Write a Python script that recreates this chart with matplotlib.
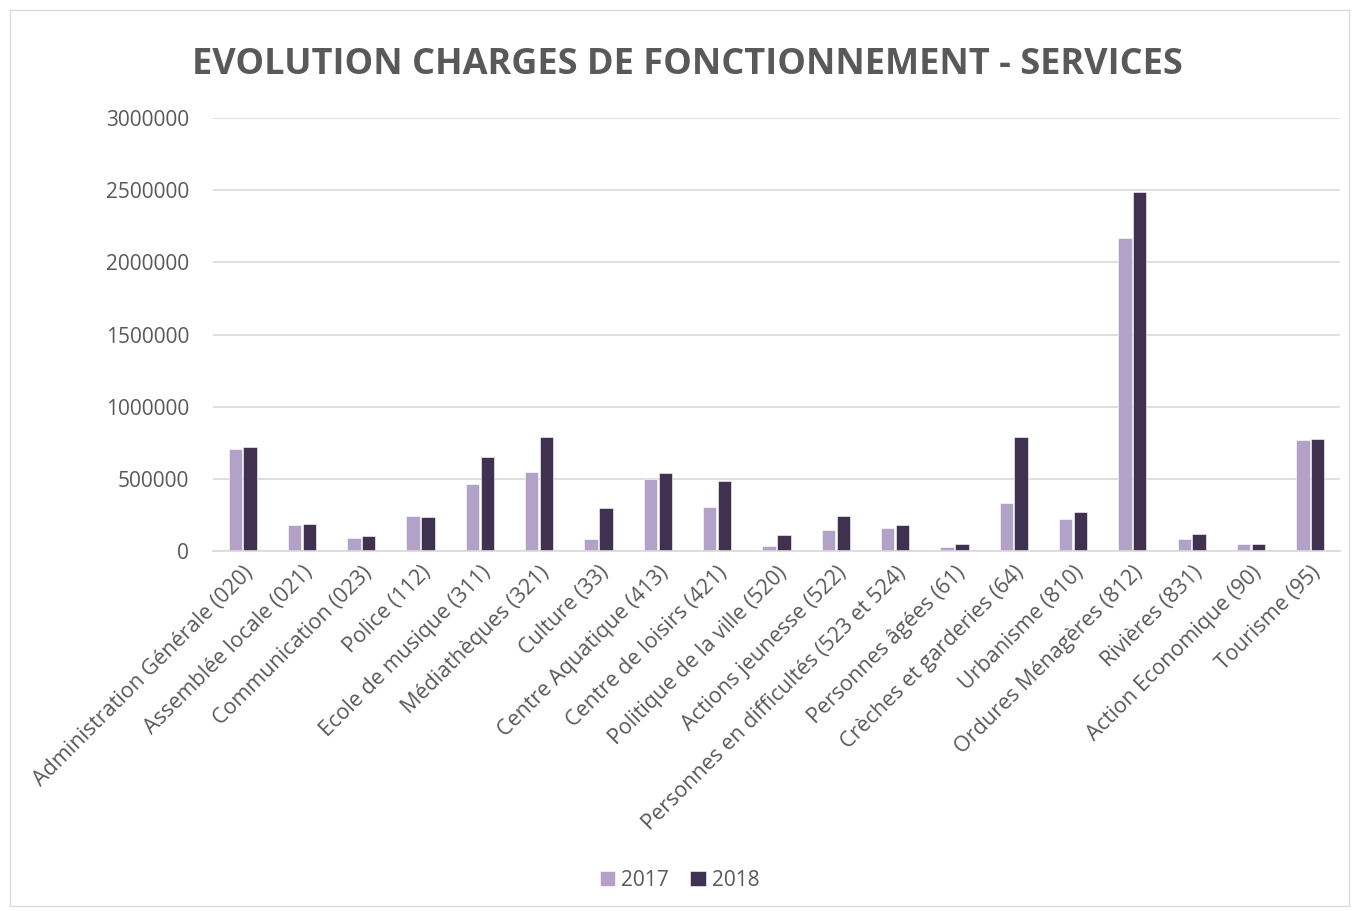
import numpy as np
import matplotlib.pyplot as plt
from matplotlib.patches import Rectangle

categories = ["Administration Générale (020)", "Assemblée locale (021)", "Communication (023)",
              "Police (112)", "Ecole de musique (311)", "Médiathèques (321)", "Culture (33)",
              "Centre Aquatique (413)", "Centre de loisirs (421)", "Politique de la ville (520)",
              "Actions jeunesse (522)", "Personnes en difficultés (523 et 524)", "Personnes âgées (61)",
              "Crèches et garderies (64)", "Urbanisme (810)", "Ordures Ménagères (812)",
              "Rivières (831)", "Action Economique (90)", "Tourisme (95)"]
val_2017 = [707000, 180000, 88000, 242000, 468000, 551000, 85000, 502000, 309000, 37000,
            145000, 159000, 30000, 334000, 226000, 2167000, 85000, 48000, 770000]
val_2018 = [721000, 191000, 108000, 240000, 652000, 790000, 297000, 544000, 486000, 113000,
            244000, 182000, 51000, 790000, 274000, 2486000, 120000, 48000, 779000]

plt.rcParams['font.family'] = ['Open Sans', 'DejaVu Sans']
txt = '#595959'

fig = plt.figure(figsize=(13.59, 9.11), dpi=100)
ax = fig.add_axes([0.1567, 0.395, 0.8293, 0.4755])

x = np.arange(len(categories))
w = 0.225
ax.bar(x - 0.125, val_2017, w, color='#B3A2C7', label='2017', edgecolor='white', linewidth=0.4)
ax.bar(x + 0.125, val_2018, w, color='#403151', label='2018', edgecolor='white', linewidth=0.4)

ax.set_ylim(0, 3000000)
ax.set_xlim(-0.5, len(categories) - 0.5)
ax.set_yticks(np.arange(0, 3000001, 500000))
ax.set_yticklabels([str(v) for v in range(0, 3000001, 500000)], fontsize=15, color=txt)
ax.yaxis.grid(True, color='#d9d9d9', linewidth=1.2)
ax.set_axisbelow(True)
for s in ['top', 'right', 'left']:
    ax.spines[s].set_visible(False)
ax.spines['bottom'].set_color('#d9d9d9')
ax.spines['bottom'].set_linewidth(1.2)
ax.tick_params(axis='y', length=0, pad=17)
ax.set_xticks(x)
ax.set_xticklabels(categories, rotation=45, ha='right', rotation_mode='anchor',
                   fontsize=15.5, color=txt)
ax.tick_params(axis='x', length=0, pad=8)

fig.text(0.506, 0.929, "EVOLUTION CHARGES DE FONCTIONNEMENT - SERVICES", ha='center', va='center',
         fontsize=26, fontweight='bold', color=txt)

leg = fig.legend(loc='center', bbox_to_anchor=(0.5, 0.034), ncol=2, frameon=False,
                 fontsize=15, handlelength=0.75, handleheight=0.75, columnspacing=1.0, handletextpad=0.3)
for t in leg.get_texts():
    t.set_color(txt)

fig.patches.append(Rectangle((0.007, 0.005), 0.986, 0.984, transform=fig.transFigure,
                             fill=False, edgecolor='#d9d9d9', linewidth=1))

fig.savefig('out.png', dpi=100)
